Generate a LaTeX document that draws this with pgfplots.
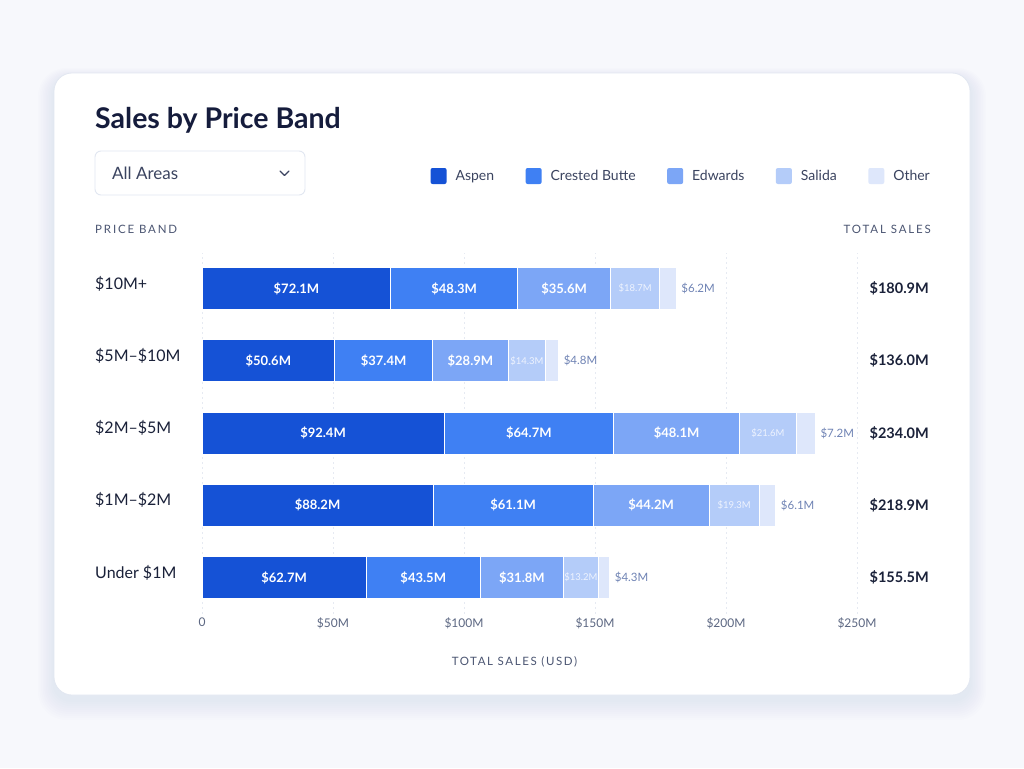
\documentclass[border=0pt]{standalone}
\usepackage{fontspec}
\setmainfont{Lato}
\usepackage{pgfplots}
\pgfplotsset{compat=1.18}
\usepackage{pgfplotstable}

\definecolor{bgc}{HTML}{F7F8FC}
\definecolor{cardborder}{HTML}{E2E7F1}
\definecolor{titlec}{HTML}{151C3C}
\definecolor{textc}{HTML}{3B4460}
\definecolor{labelc}{HTML}{4B5572}
\definecolor{tickc}{HTML}{5C6782}
\definecolor{catc}{HTML}{1A2139}
\definecolor{gridc}{HTML}{E6EAF2}
\definecolor{shadowc}{HTML}{5A6FA0}
\definecolor{aspen}{HTML}{1552D6}
\definecolor{cb}{HTML}{3F80F3}
\definecolor{edw}{HTML}{7CA6F6}
\definecolor{sal}{HTML}{B4CCF9}
\definecolor{oth}{HTML}{DEE7FB}
\definecolor{sallab}{HTML}{EEF3FE}
\definecolor{othlab}{HTML}{6F83B4}

\pgfplotstableread{
y aspen cb edwards salida other
0 62.7 43.5 31.8 13.2 4.3
1 88.2 61.1 44.2 19.3 6.1
2 92.4 64.7 48.1 21.6 7.2
3 50.6 37.4 28.9 14.3 4.8
4 72.1 48.3 35.6 18.7 6.2
}\data

\begin{document}
\begin{tikzpicture}[x=1pt,y=1pt]
\useasboundingbox (0,0) rectangle (1024,-768);
\fill[bgc] (0,0) rectangle (1024,-768);
\foreach \i in {1,...,10} {
  \fill[shadowc, opacity=0.008, rounded corners={18pt+\i pt}] ({54-1.6*\i},{-73+1.0*\i-5}) rectangle ({970+1.6*\i},{-695-2.0*\i-5});
}
\fill[white, rounded corners=18pt] (54,-73) rectangle (970,-695);
\draw[cardborder, line width=0.8pt, rounded corners=18pt] (54,-73) rectangle (970,-695);

\node[anchor=base west, inner sep=0pt, text=titlec, font=\fontsize{28.5}{32}\selectfont\bfseries] at (95,-128) {Sales by Price Band};

\draw[cardborder, line width=0.9pt, rounded corners=6pt, fill=white] (95,-151) rectangle (305,-195);
\node[anchor=west, inner sep=0pt, font=\fontsize{17}{20}\selectfont, text=textc] at (112,-173.5) {All Areas};
\draw[textc, line width=1.4pt, line cap=round, line join=round] (280,-171) -- (284.5,-175.5) -- (289,-171);

\node[anchor=west, inner sep=0pt, font=\fontsize{11.5}{13}\selectfont\addfontfeatures{LetterSpace=16}, text=labelc] at (95,-229) {PRICE BAND};
\node[anchor=east, inner sep=0pt, font=\fontsize{11.5}{13}\selectfont\addfontfeatures{LetterSpace=16}, text=labelc] at (931,-229) {TOTAL SALES};

\begin{axis}[
  at={(202pt,-613.5pt)}, anchor=south west,
  scale only axis, width=655pt, height=361pt, clip=false,
  xbar stacked, bar width=42pt,
  xmin=0, xmax=250, ymin=-0.5, ymax=4.5,
  enlarge x limits=false, enlarge y limits=false,
  axis line style={draw=none}, major tick length=0pt,
  xtick={0,50,100,150,200,250},
  xticklabels={0,\$50M,\$100M,\$150M,\$200M,\$250M},
  ytick={0,1,2,3,4},
  yticklabels={Under \$1M,\$1M--\$2M,\$2M--\$5M,\$5M--\$10M,\$10M+},
  xmajorgrids, grid style={gridc, dash pattern=on 2pt off 3pt, line width=0.7pt},
  xticklabel style={font=\fontsize{12}{14}\selectfont, text=tickc, yshift=-1pt},
  yticklabel style={anchor=west, xshift=-107pt, yshift=5pt, inner sep=0pt, font=\fontsize{16}{18}\selectfont, text=catc},
  xlabel={TOTAL SALES (USD)},
  x label style={at={(axis description cs:0.477,-0.134)}, anchor=center, inner sep=0pt, font=\fontsize{11.5}{13}\selectfont\addfontfeatures{LetterSpace=14}, text=labelc},
  legend columns=5,
  legend style={at={(axis description cs:1.1145,1.2119)}, anchor=east, draw=none, fill=none,
    font=\fontsize{14}{16}\selectfont, text=textc, inner sep=0pt,
    /tikz/every even column/.append style={column sep=29.5pt}},
  legend image code/.code={\fill[#1, draw=none, rounded corners=2pt] (0pt,-8pt) rectangle (16pt,8pt); \path[draw=none, fill=none] (0pt,0pt) -- (23pt,0pt);},
  point meta=explicit,
  nodes near coords={\$\pgfmathprintnumber[fixed,fixed zerofill,precision=1,assume math mode=true]{\pgfplotspointmeta}M},
  nodes near coords style={anchor=center, font=\fontsize{13}{15}\selectfont\bfseries},
  visualization depends on={rawx \as \myval},
]
\addplot[fill=aspen, draw=white, line width=0.9pt,
  every node near coord/.append style={text=white}]
  table[x=aspen, y=y, meta=aspen] {\data};
\addlegendentry{Aspen}
\addplot[fill=cb, draw=white, line width=0.9pt,
  every node near coord/.append style={text=white}]
  table[x=cb, y=y, meta=cb] {\data};
\addlegendentry{Crested Butte}
\addplot[fill=edw, draw=white, line width=0.9pt,
  every node near coord/.append style={text=white}]
  table[x=edwards, y=y, meta=edwards] {\data};
\addlegendentry{Edwards}
\addplot[fill=sal, draw=white, line width=0.9pt,
  every node near coord/.append style={text=sallab, inner sep=0pt, font=\fontsize{9.5}{11}\selectfont}]
  table[x=salida, y=y, meta=salida] {\data};
\addlegendentry{Salida}
\addplot[fill=oth, draw=white, line width=0.9pt,
  every node near coord/.append style={text=othlab, anchor=west, inner sep=0pt, xshift={1.31*\myval+5}, font=\fontsize{11.5}{14}\selectfont}]
  table[x=other, y=y, meta=other] {\data};
\addlegendentry{Other}
\end{axis}

\begin{axis}[
  at={(202pt,-613.5pt)}, anchor=south west,
  scale only axis, width=655pt, height=361pt,
  xmin=0, xmax=250, ymin=-0.5, ymax=4.5,
  axis line style={draw=none}, major tick length=0pt,
  xtick=\empty,
  ytick={0,1,2,3,4},
  yticklabels={\$155.5M,\$218.9M,\$234.0M,\$136.0M,\$180.9M},
  yticklabel pos=right,
  yticklabel style={anchor=east, xshift=72pt, inner sep=0pt, font=\fontsize{14.5}{17}\selectfont\bfseries, text=catc},
]
\addplot[draw=none, forget plot] coordinates {(0,0)};
\end{axis}
\end{tikzpicture}
\end{document}
